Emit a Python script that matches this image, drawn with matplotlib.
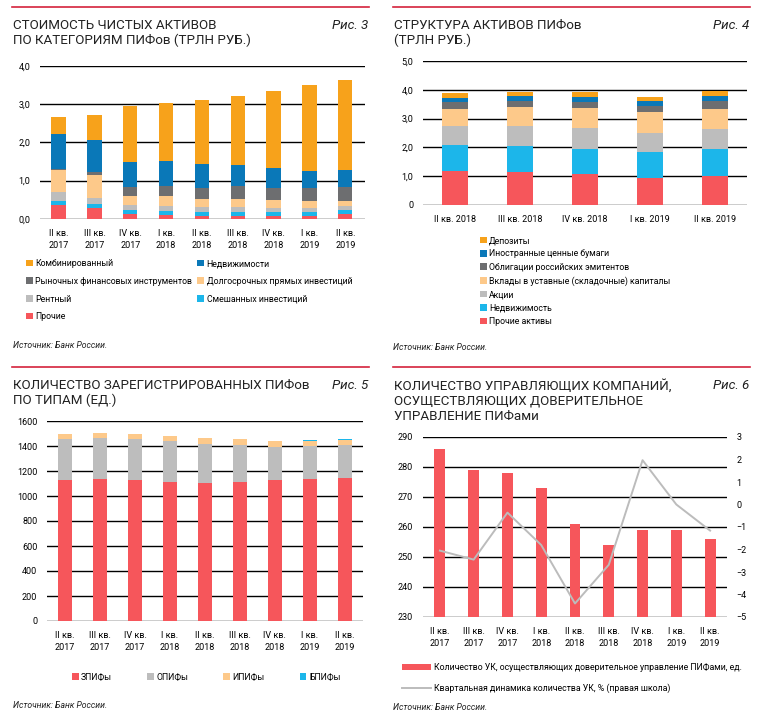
import matplotlib
matplotlib.use("Agg")
import matplotlib.pyplot as plt
import numpy as np
from matplotlib.lines import Line2D

plt.rcParams['font.family'] = ['Roboto', 'DejaVu Sans']

W, H = 763, 716

# ---- data: fig 3 (trillion rub, by fund category)
q9 = ["II кв.\n2017", "III кв.\n2017", "IV кв.\n2017", "I кв.\n2018", "II кв.\n2018",
      "III кв.\n2018", "IV кв.\n2018", "I кв.\n2019", "II кв.\n2019"]
f3_other = [0.375, 0.30, 0.13, 0.11, 0.08, 0.09, 0.08, 0.08, 0.13]
f3_mixed = [0.095, 0.085, 0.10, 0.10, 0.09, 0.09, 0.09, 0.09, 0.10]
f3_rent = [0.23, 0.175, 0.14, 0.14, 0.14, 0.13, 0.13, 0.13, 0.11]
f3_longterm = [0.575, 0.58, 0.24, 0.26, 0.21, 0.21, 0.20, 0.17, 0.14]
f3_market = [0.02, 0.08, 0.22, 0.26, 0.30, 0.34, 0.32, 0.33, 0.35]
f3_realty = [0.925, 0.84, 0.66, 0.65, 0.61, 0.54, 0.50, 0.46, 0.45]
f3_combined = [0.44, 0.66, 1.46, 1.50, 1.67, 1.80, 2.03, 2.23, 2.35]

# ---- data: fig 4 (asset structure, trillion rub)
q5 = ["II кв. 2018", "III кв. 2018", "IV кв. 2018", "I кв. 2019", "II кв. 2019"]
f4_other = [1.18, 1.15, 1.07, 0.94, 1.00]
f4_realty = [0.91, 0.90, 0.88, 0.89, 0.93]
f4_shares = [0.65, 0.69, 0.74, 0.68, 0.71]
f4_capital = [0.60, 0.66, 0.69, 0.71, 0.70]
f4_bonds = [0.22, 0.21, 0.21, 0.22, 0.26]
f4_foreign = [0.14, 0.16, 0.17, 0.16, 0.17]
f4_deposits = [0.19, 0.14, 0.16, 0.15, 0.18]

# ---- data: fig 5 (number of funds)
f5_zpif = [1128, 1133, 1128, 1115, 1107, 1109, 1125, 1133, 1144]
f5_opif = [331, 328, 325, 322, 312, 302, 267, 267, 261]
f5_ipif = [40, 46, 43, 46, 45, 48, 45, 37, 40]
f5_bpif = [0, 0, 0, 0, 0, 0, 0, 8, 8]

# ---- data: fig 6 (management companies)
f6_count = [286, 279, 278, 273, 261, 254, 259, 259, 256]
f6_change = [-2.05, -2.45, -0.36, -1.80, -4.40, -2.68, 1.97, 0.0, -1.16]

c_orange = "#f7a21b"
c_blue = "#0a78b8"
c_dgrey = "#6d6e70"
c_lorange = "#fdc98a"
c_lgrey = "#bdbdbd"
c_cyan = "#1cb6ea"
c_red = "#f6565b"
c_line = "#bcbcbc"
c_rule = "#d4223c"

leg_fs = 6.3

fig = plt.figure(figsize=(W / 100, H / 100), dpi=100)


def box(l, t, r, b):
    return [l / W, 1 - b / H, (r - l) / W, (b - t) / H]


def fx(x):
    return x / W


def fy(y):
    return 1 - y / H


def style(ax, xpad=7):
    for s in ax.spines.values():
        s.set_visible(False)
    ax.yaxis.grid(True, color="black", lw=1)
    ax.set_axisbelow(True)
    ax.tick_params(length=0, labelsize=6.5, pad=7)
    ax.tick_params(axis="x", pad=xpad)


def header(x0, x1, y0, title, fig_no):
    fig.add_artist(Line2D([fx(x0), fx(x1)], [fy(y0), fy(y0)], color=c_rule, lw=1.2))
    fig.text(fx(x0 + 1), fy(y0 + 12), title, fontsize=9.6, va="top", ha="left",
             linespacing=1.2, color="#222222")
    fig.text(fx(x1 - 1), fy(y0 + 12), fig_no, fontsize=9.6, va="top", ha="right",
             style="italic", color="#222222")


def source(x, y):
    fig.text(fx(x), fy(y), "Источник: Банк России.", fontsize=6.2, style="italic",
             va="center", ha="left", color="#222222")


# ================= Fig 3
header(12, 369, 7, "СТОИМОСТЬ ЧИСТЫХ АКТИВОВ\nПО КАТЕГОРИЯМ ПИФов (ТРЛН РУБ.)", "Рис. 3")
ax3 = fig.add_axes(box(40, 65.7, 365, 219))
style(ax3)
x9 = np.arange(len(q9))
series3 = [("Прочие", f3_other, c_red), ("Смешанных инвестиций", f3_mixed, c_cyan),
           ("Рентный", f3_rent, c_lgrey), ("Долгосрочных прямых инвестиций", f3_longterm, c_lorange),
           ("Рыночных финансовых инструментов", f3_market, c_dgrey),
           ("Недвижимости", f3_realty, c_blue), ("Комбинированный", f3_combined, c_orange)]
bottom = np.zeros(len(q9))
h3 = {}
for name, vals, col in series3:
    h3[name] = ax3.bar(x9, vals, 0.4, bottom=bottom, color=col, label=name)
    bottom += np.array(vals)
ax3.set_xlim(-0.52, 8.55)
ax3.set_ylim(0, 4)
ax3.set_yticks([0, 1, 2, 3, 4])
ax3.set_yticklabels(["0,0", "1,0", "2,0", "3,0", "4,0"])
ax3.set_xticks(x9)
ax3.set_xticklabels(q9, linespacing=1.5)
order3 = ["Комбинированный", "Рыночных финансовых инструментов", "Рентный", "Прочие",
          "Недвижимости", "Долгосрочных прямых инвестиций", "Смешанных инвестиций"]
fig.legend([h3[n] for n in order3], order3, loc="upper left",
           bbox_to_anchor=(fx(26), fy(259)), ncol=2, frameon=False, fontsize=leg_fs,
           handlelength=0.75, handleheight=0.75, handletextpad=0.3, labelspacing=1.0,
           columnspacing=0.6, borderaxespad=0, borderpad=0)
source(13, 345)

# ================= Fig 4
header(393, 750, 7, "СТРУКТУРА АКТИВОВ ПИФов\n(ТРЛН РУБ.)", "Рис. 4")
ax4 = fig.add_axes(box(423, 61, 747, 205))
style(ax4)
x5 = np.arange(len(q5))
series4 = [("Прочие активы", f4_other, c_red), ("Недвижимость", f4_realty, c_cyan),
           ("Акции", f4_shares, c_lgrey),
           ("Вклады в уставные (складочные) капиталы", f4_capital, c_lorange),
           ("Облигации российских эмитентов", f4_bonds, c_dgrey),
           ("Иностранные ценные бумаги", f4_foreign, c_blue), ("Депозиты", f4_deposits, c_orange)]
bottom = np.zeros(len(q5))
h4 = []
for name, vals, col in series4:
    h4.append(ax4.bar(x5, vals, 0.4, bottom=bottom, color=col, label=name))
    bottom += np.array(vals)
ax4.set_xlim(-0.5, 4.5)
ax4.set_ylim(0, 5)
ax4.set_yticks([0, 1, 2, 3, 4, 5])
ax4.set_yticklabels(["0", "1,0", "2,0", "3,0", "4,0", "5,0"])
ax4.set_xticks(x5)
ax4.set_xticklabels(q5)
fig.legend(h4[::-1], [s[0] for s in series4][::-1], loc="upper left",
           bbox_to_anchor=(fx(480), fy(236)), ncol=1, frameon=False, fontsize=leg_fs,
           handlelength=0.75, handleheight=0.75, handletextpad=0.3, labelspacing=0.5,
           borderaxespad=0, borderpad=0)
source(393, 348)

# ================= Fig 5
header(12, 369, 367, "КОЛИЧЕСТВО ЗАРЕГИСТРИРОВАННЫХ ПИФов\nПО ТИПАМ (ЕД.)", "Рис. 5")
ax5 = fig.add_axes(box(47, 421, 363, 621))
style(ax5)
series5 = [("ЗПИФы", f5_zpif, c_red), ("ОПИФы", f5_opif, c_lgrey),
           ("ИПИФы", f5_ipif, c_lorange), ("БПИФы", f5_bpif, c_cyan)]
bottom = np.zeros(len(q9))
h5 = []
for name, vals, col in series5:
    h5.append(ax5.bar(x9, vals, 0.4, bottom=bottom, color=col, label=name))
    bottom += np.array(vals)
ax5.set_xlim(-0.52, 8.52)
ax5.set_ylim(0, 1600)
ax5.set_yticks(np.arange(0, 1601, 200))
ax5.set_xticks(x9)
ax5.set_xticklabels(q9, linespacing=1.5)
fig.legend(h5, [s[0] for s in series5], loc="center left",
           bbox_to_anchor=(fx(72), fy(677)), ncol=4, frameon=False, fontsize=leg_fs,
           handlelength=0.75, handleheight=0.75, handletextpad=0.3, columnspacing=4.0,
           borderaxespad=0, borderpad=0)
source(13, 706)

# ================= Fig 6
header(393, 750, 367, "КОЛИЧЕСТВО УПРАВЛЯЮЩИХ КОМПАНИЙ,\nОСУЩЕСТВЛЯЮЩИХ ДОВЕРИТЕЛЬНОЕ\nУПРАВЛЕНИЕ ПИФами", "Рис. 6")
ax6 = fig.add_axes(box(423, 437, 727, 617))
style(ax6)
hb = ax6.bar(x9, f6_count, 0.32, color=c_red, zorder=2)
ax6.set_xlim(-0.5, 8.5)
ax6.set_ylim(230, 290)
ax6.set_yticks(np.arange(230, 291, 10))
ax6.set_xticks(x9)
ax6.set_xticklabels(q9, linespacing=1.5)
ax6r = ax6.twinx()
for s in ax6r.spines.values():
    s.set_visible(False)
hl, = ax6r.plot(x9, f6_change, color=c_line, lw=1.4)
ax6r.set_ylim(-5, 3)
ax6r.set_yticks(np.arange(-5, 4, 1))
ax6r.tick_params(length=0, labelsize=6.5, pad=7)
fig.legend([hb, hl], ["Количество УК, осуществляющих доверительное управление ПИФами, ед.",
                      "Квартальная динамика количества УК, % (правая школа)"],
           loc="upper left", bbox_to_anchor=(fx(402), fy(663)), ncol=1, frameon=False,
           fontsize=leg_fs, handlelength=3.3, handleheight=0.6, handletextpad=0.3,
           labelspacing=1.3, borderaxespad=0, borderpad=0)
source(393, 707)

fig.savefig("out.png", dpi=100)
